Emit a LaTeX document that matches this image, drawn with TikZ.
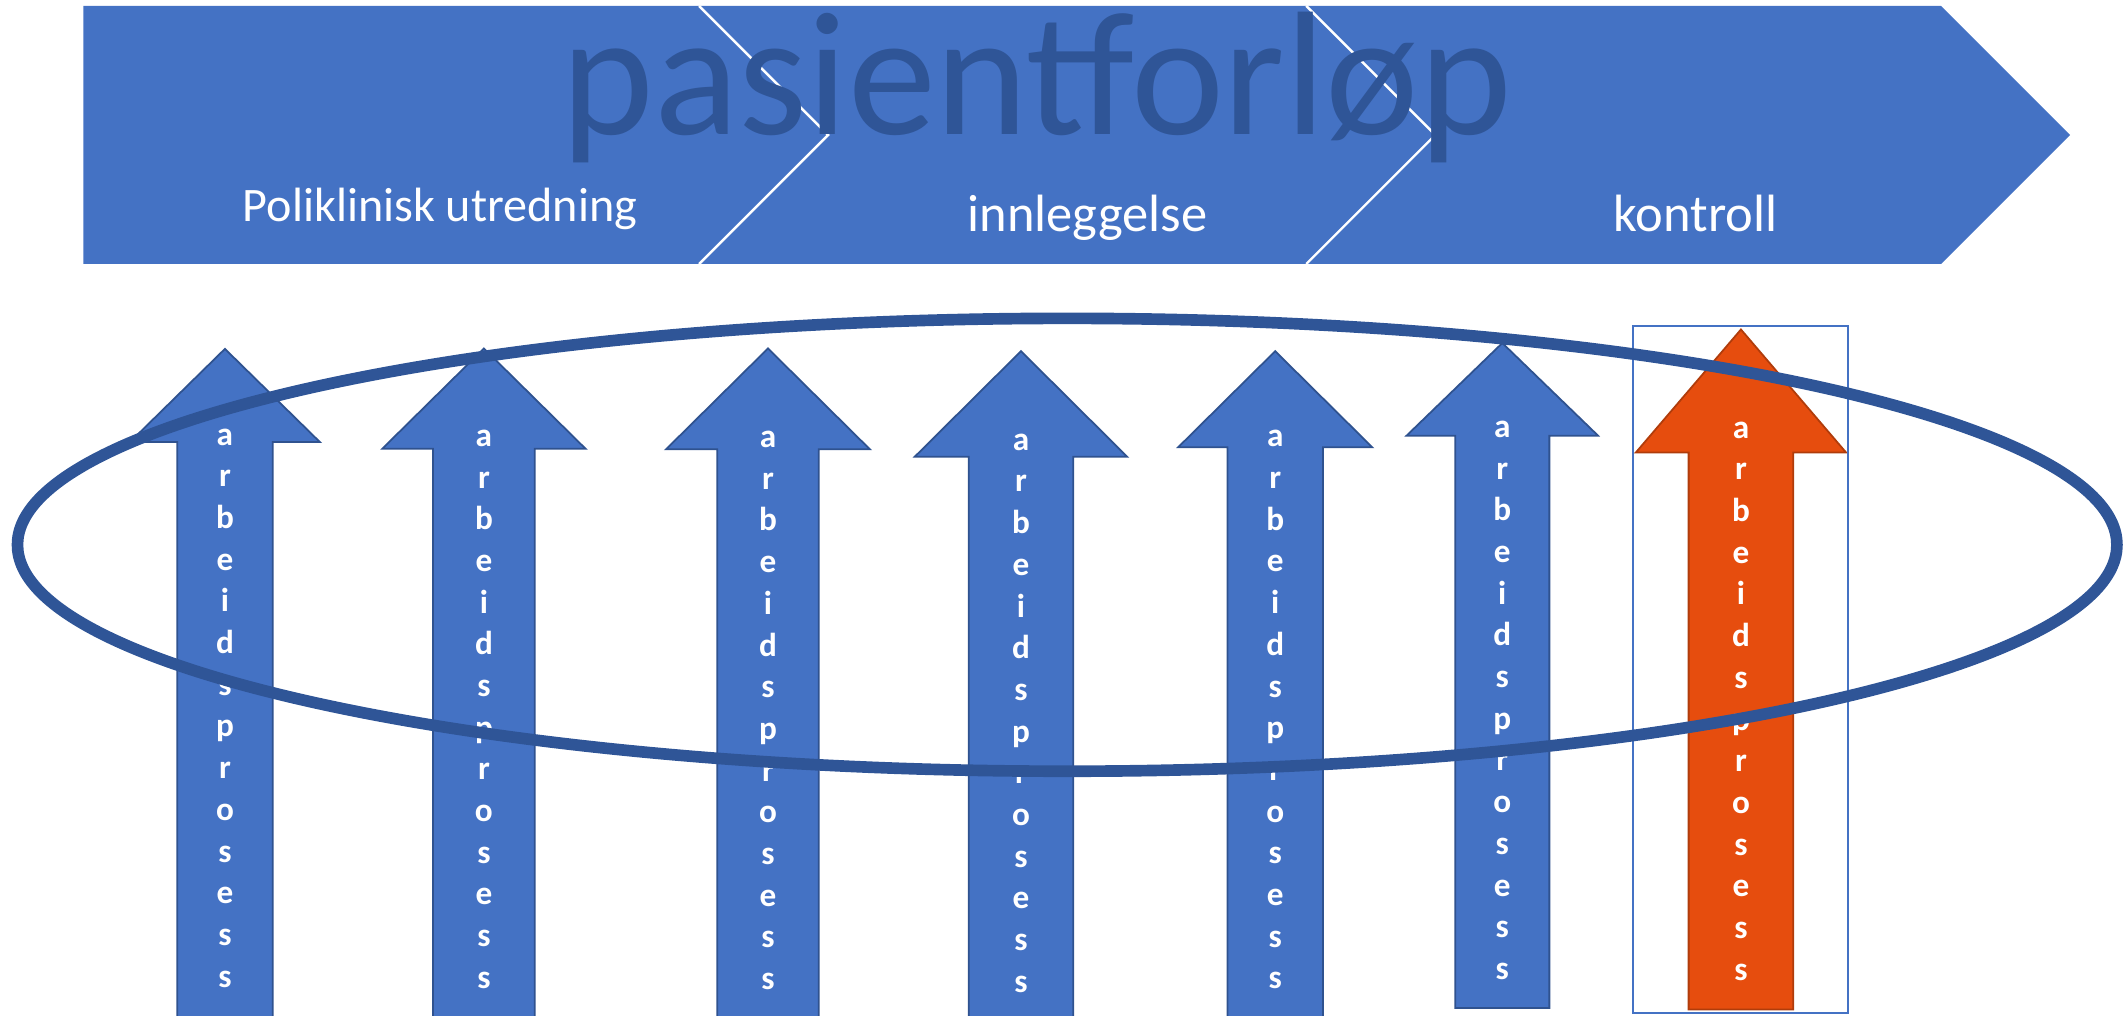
\documentclass[tikz,border=0pt]{standalone}
\usepackage{fontspec}
\setmainfont{Carlito}
\definecolor{ppblue}{HTML}{4472C4}
\definecolor{ppdark}{HTML}{2F5597}
\definecolor{ppedge}{HTML}{2F528F}
\definecolor{pporange}{HTML}{E64D0E}
\definecolor{ppoedge}{HTML}{B03C0B}
\begin{document}
\begin{tikzpicture}[x=1pt,y=-1pt,
  banner/.style={fill=ppblue,draw=none},
  sepline/.style={draw=white,line width=1.8pt},
  upbox/.style={fill=ppblue,draw=ppedge,line width=1.3pt},
  upboxhot/.style={fill=pporange,draw=ppoedge,line width=1.3pt},
  letter/.style={text=white,font=\bfseries\fontsize{24.5}{29}\selectfont,inner sep=0pt,anchor=base},
  phase/.style={text=white,inner sep=0pt,anchor=base},
  bigtitle/.style={text=ppdark,font=\fontsize{130}{150}\selectfont,inner sep=0pt,anchor=base},
  ring/.style={draw=ppdark,line width=8.6pt},
  frame/.style={draw=ppblue,line width=1.5pt}]

\useasboundingbox (0,0) rectangle (1568,749.3);

% banner
\fill[banner] (61.4,4.4) -- (1431.6,4.4) -- (1526.8,99.55) -- (1431.6,194.7) -- (61.4,194.7) -- cycle;
\draw[sepline] (515.6,4.4) -- (610.75,99.55) -- (515.6,194.7);
\draw[sepline] (963.4,4.4) -- (1058.55,99.55) -- (963.4,194.7);

\node[bigtitle] (title) at (764.8,99.5) {pasientforløp};
\node[phase,font=\fontsize{35.5}{43}\selectfont] (ph1) at (324.5,163.5) {Poliklinisk utredning};
\node[phase,font=\fontsize{38.7}{46}\selectfont] (ph2) at (802,170.9) {innleggelse};
\node[phase,font=\fontsize{38.7}{46}\selectfont] (ph3) at (1250.4,170.8) {kontroll};

% arrows
\foreach \n/\cx/\tip/\base/\hh/\sh/\bot/\ly/\sty in {
  1/165.9/257.3/326/70/35.2/755/322.7/upbox,
  2/356.9/257/331/75/37.5/755/323.6/upbox,
  3/566.4/257/331.4/75.2/37.4/755/324.5/upbox,
  4/753/259/336.8/78.3/38.5/755/326.5/upbox,
  5/940.5/259/329.8/71.5/35.2/755/324/upbox,
  6/1108/253/321.3/70.6/34.7/743.5/317/upbox,
  7/1284/243/333.8/77.6/38.6/744.6/317.6/upboxhot}
{
  \draw[\sty] (\cx,\tip) -- (\cx+\hh,\base) -- (\cx+\sh,\base) -- (\cx+\sh,\bot)
     -- (\cx-\sh,\bot) -- (\cx-\sh,\base) -- (\cx-\hh,\base) -- cycle;
  \foreach \ch [count=\k from 0] in {a,r,b,e,i,d,s,p,r,o,s,e,s,s}
    \node[letter] (L\n-\k) at (\cx,\ly+5.6+\k*30.75) {\ch};
}

\draw[frame] (1204.3,240.5) rectangle (1363,747);

\draw[ring] (787.1,401.8) ellipse [x radius=774.2, y radius=167];
\end{tikzpicture}
\end{document}
